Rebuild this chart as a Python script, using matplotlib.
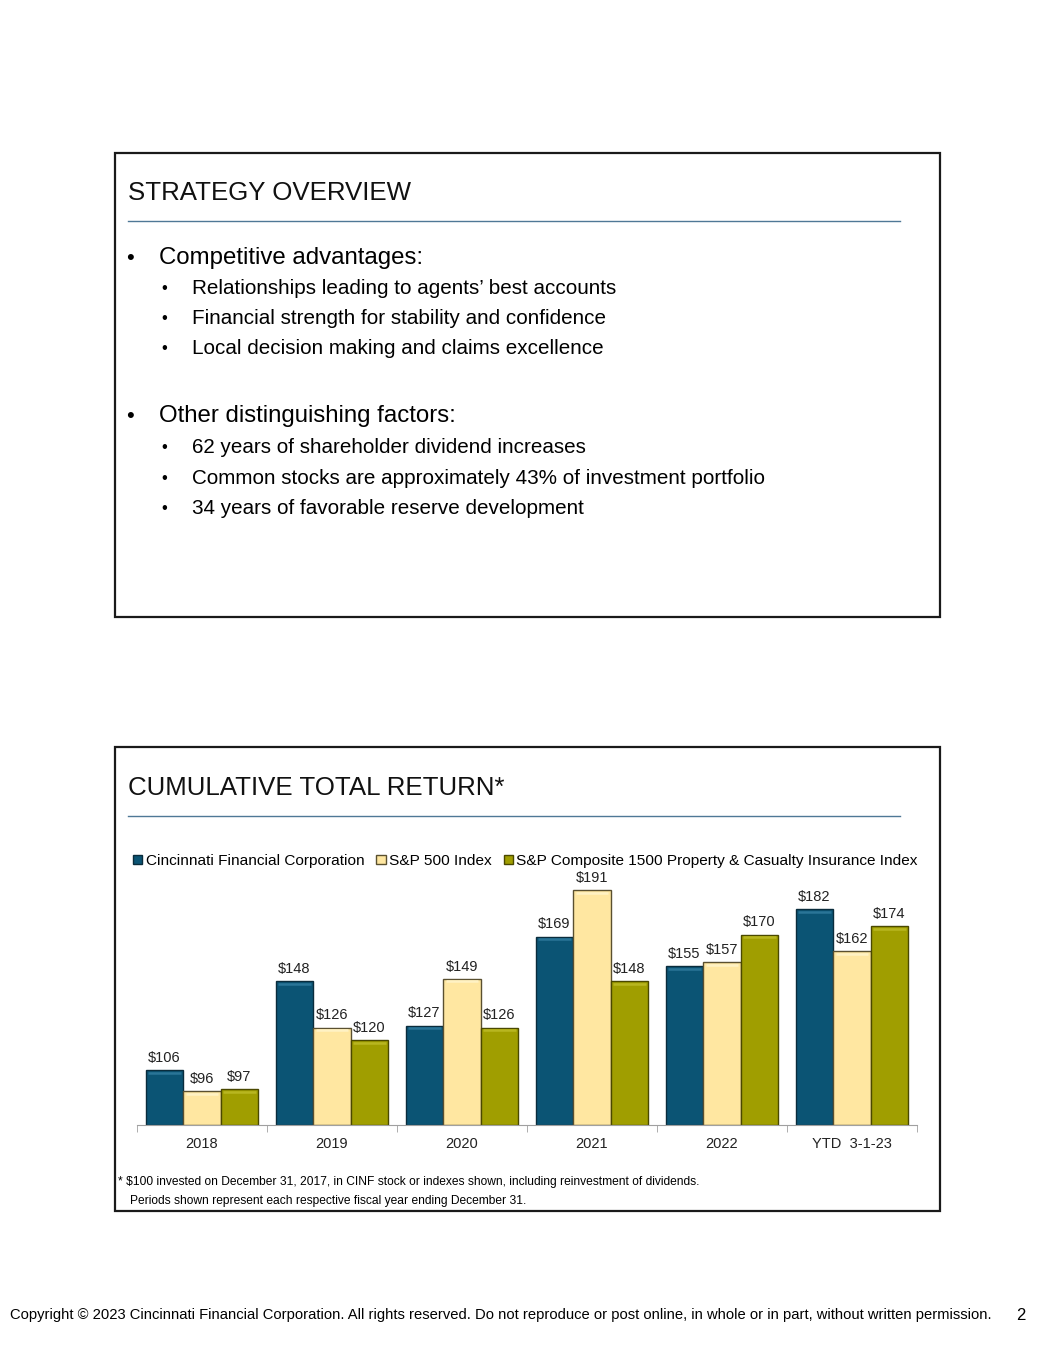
import numpy as np
import matplotlib.pyplot as plt
from matplotlib.patches import Rectangle
from matplotlib.lines import Line2D
from matplotlib.ticker import FixedLocator

plt.rcParams['font.family'] = ['Liberation Sans', 'DejaVu Sans']

# Datos
periodos = ['2018', '2019', '2020', '2021', '2022', 'YTD  3-1-23']
series = ['Cincinnati Financial Corporation', 'S&P 500 Index',
          'S&P Composite 1500 Property & Casualty Insurance Index']
cinf = [106, 148, 127, 169, 155, 182]
sp500 = [96, 126, 149, 191, 157, 162]
pc1500 = [97, 120, 126, 148, 170, 174]

puntos_1 = ['Relationships leading to agents\u2019 best accounts',
            'Financial strength for stability and confidence',
            'Local decision making and claims excellence']
puntos_2 = ['62 years of shareholder dividend increases',
            'Common stocks are approximately 43% of investment portfolio',
            '34 years of favorable reserve development']

colores = ['#0b5474', '#ffe7a1', '#a09e00']
bordes = ['#0a2c3c', '#5a5030', '#4a4800']
brillo = ['#2a7597', '#fff2c4', '#b8b620']

W, H = 1055, 1365
fig = plt.figure(figsize=(W / 100, H / 100), dpi=100)


def fx(x):
    return x / W


def fy(y):
    return 1 - y / H


def texto(x, y, s, size, **kw):
    fig.text(fx(x), fy(y), s, fontsize=size, va='center', ha='left', **kw)


# Cajas
for (x0, y0, x1, y1) in [(115, 153, 940, 617), (115, 747, 940, 1211)]:
    fig.patches.append(Rectangle((fx(x0), fy(y1)), fx(x1) - fx(x0), fy(y0) - fy(y1),
                                 transform=fig.transFigure, fill=False,
                                 edgecolor='#1a1a1a', linewidth=1.6))

# Estrategia
texto(128, 193, 'STRATEGY OVERVIEW', 18.6, color='#111111')
fig.lines.append(Line2D([fx(128), fx(900)], [fy(221), fy(221)], transform=fig.transFigure,
                        color='#4f7896', linewidth=1.0))

texto(126, 258, '\u2022', 16)
texto(159, 258, 'Competitive advantages:', 17.3)
for i, s in enumerate(puntos_1):
    texto(161, 289 + 30 * i, '\u2022', 12)
    texto(192, 289 + 30 * i, s, 14.9)
texto(126, 416, '\u2022', 16)
texto(159, 416, 'Other distinguishing factors:', 17.3)
for i, s in enumerate(puntos_2):
    texto(161, 448 + 30 * i, '\u2022', 12)
    texto(192, 448 + 30 * i, s, 14.9)

# Retorno total
texto(128, 788, 'CUMULATIVE TOTAL RETURN*', 18.6, color='#111111')
fig.lines.append(Line2D([fx(128), fx(900)], [fy(816), fy(816)], transform=fig.transFigure,
                        color='#4f7896', linewidth=1.0))

ax_top, ax_bot = 871, 1125
ax = fig.add_axes([fx(137), fy(ax_bot), fx(917) - fx(137), fy(ax_top) - fy(ax_bot)])
x = np.arange(len(periodos))
ancho = 0.288
for k, vals in enumerate([cinf, sp500, pc1500]):
    pos = x + (k - 1) * ancho
    ax.bar(pos, np.array(vals) - 80, width=ancho, bottom=80, color=colores[k],
           edgecolor=bordes[k], linewidth=1.0, label=series[k], zorder=2)
    # brillo superior
    ax.hlines(np.array(vals) - 1.2, pos - ancho / 2 + 0.02, pos + ancho / 2 - 0.02,
              color=brillo[k], linewidth=1.8, zorder=3)
    for p, v in zip(pos, vals):
        ax.text(p, v + 2.5, f'${v}', ha='center', va='bottom', fontsize=10.5, color='#222222')

ax.set_xlim(-0.5, len(periodos) - 0.5)
ax.set_ylim(80, 200)
ax.set_yticks([])
for lado in ['left', 'right', 'top']:
    ax.spines[lado].set_visible(False)
ax.spines['bottom'].set_color('#a0a0a0')
ax.set_xticks(x)
ax.set_xticklabels(periodos, fontsize=10.5, color='#222222')
ax.tick_params(axis='x', which='major', length=0, pad=9)
ax.xaxis.set_minor_locator(FixedLocator(np.arange(-0.5, len(periodos), 1.0)))
ax.tick_params(axis='x', which='minor', length=5, color='#a0a0a0')

leg = fig.legend(*ax.get_legend_handles_labels(), loc='center left',
                 bbox_to_anchor=(fx(127), fy(861)), ncol=3, frameon=False,
                 fontsize=11.1, handlelength=0.6, handleheight=0.6,
                 handletextpad=0.2, columnspacing=0.8, borderaxespad=0)

texto(118, 1182, '* $100 invested on December 31, 2017, in CINF stock or indexes shown, including reinvestment of dividends.', 8.65)
texto(130, 1201, 'Periods shown represent each respective fiscal year ending December 31.', 8.65)

# Pie
texto(10, 1315, 'Copyright \u00a9 2023 Cincinnati Financial Corporation. All rights reserved. Do not reproduce or post online, in whole or in part, without written permission.', 10.65)
texto(1016, 1315, '2', 12)

fig.savefig('out.png', dpi=100)
